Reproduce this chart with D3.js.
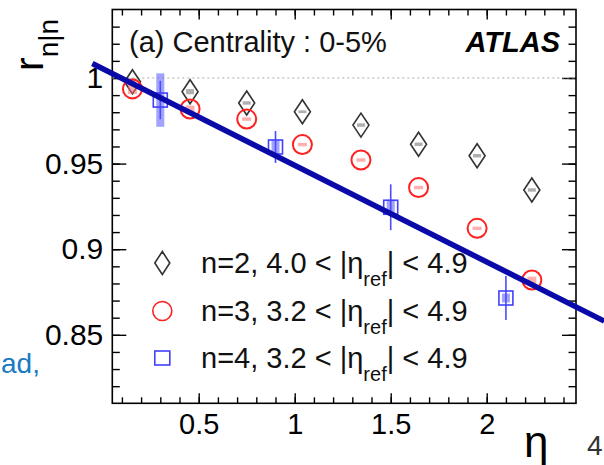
<!DOCTYPE html>
<html><head><meta charset="utf-8">
<script src="https://cdn.jsdelivr.net/npm/d3@7/dist/d3.min.js"></script>
<style>
body{margin:0;background:#fff;}
svg{display:block;font-family:"Liberation Sans",Arial,Helvetica,sans-serif;}
</style>
</head><body>
<svg id="c" width="604" height="465"></svg>
<script>
// ---- data ----
const etaN2 = [0.155, 0.455, 0.75, 1.04, 1.345, 1.645, 1.95, 2.235];
const rN2 = [0.9978, 0.9920, 0.9854, 0.9803, 0.9725, 0.9613, 0.9546, 0.9346];
const systN2 = [0.002, 0.0015, 0.001, 0.0008, 0.001, 0.001, 0.001, 0.001];

const etaN3 = [0.155, 0.455, 0.75, 1.04, 1.345, 1.645, 1.95, 2.235];
const rN3 = [0.9936, 0.9819, 0.9760, 0.9611, 0.9521, 0.9360, 0.9122, 0.8820];
const systN3 = [0.003, 0.002, 0.001, 0.001, 0.001, 0.001, 0.001, 0.002];

const etaN4 = [0.3, 0.9, 1.5, 2.1];
const rN4 = [0.9871, 0.9597, 0.9245, 0.8715];
const statN4 = [0.0112, 0.0093, 0.0134, 0.0129];
const systN4 = [0.0156, 0.0039, 0.0044, 0.0026];

const fitEta = [-0.054, 2.612];
const fitR = [1.0085, 0.8580];

const xMajor = [0.5, 1, 1.5, 2];
const xMajorLabels = ["0.5", "1", "1.5", "2"];
const yMajor = [0.85, 0.9, 0.95, 1];
const yMajorLabels = ["0.85", "0.9", "0.95", "1"];
const xMinor = d3.range(1, 25).map(i => i / 10);
const yMinor = d3.range(82, 104).map(i => i / 100);

const legendLabels = [
  ["n=2, 4.0 < |η", "ref", "| < 4.9"],
  ["n=3, 3.2 < |η", "ref", "| < 4.9"],
  ["n=4, 3.2 < |η", "ref", "| < 4.9"]
];

// ---- layout ----
const svg = d3.select("#c");
const P = {l: 112.3, r: 576, t: 9.5, b: 403.3};
const x = d3.scaleLinear().domain([0.05, 2.465]).range([P.l, P.r]);
const y = d3.scaleLinear().domain([0.81, 1.04]).range([P.b, P.t]);

const axG = svg.append("g");
function styleAxis(g){
  g.select(".domain").remove();
  g.selectAll(".tick line").attr("stroke", "#000").attr("stroke-width", 1.4);
  g.selectAll(".tick text").attr("fill", "#000");
}
// bottom
axG.append("g").attr("transform", `translate(0,${P.b})`)
  .call(d3.axisBottom(x).tickValues(xMajor).tickSizeInner(-10).tickSizeOuter(0).tickPadding(10)
    .tickFormat((d, i) => xMajorLabels[i]))
  .call(styleAxis).call(g => g.selectAll("text").attr("font-size", 29).attr("font-family", null));
axG.append("g").attr("transform", `translate(0,${P.b})`)
  .call(d3.axisBottom(x).tickValues(xMinor).tickSizeInner(-6).tickSizeOuter(0).tickFormat(""))
  .call(styleAxis);
// top
axG.append("g").attr("transform", `translate(0,${P.t})`)
  .call(d3.axisTop(x).tickValues(xMajor).tickSizeInner(-10).tickSizeOuter(0).tickFormat(""))
  .call(styleAxis);
axG.append("g").attr("transform", `translate(0,${P.t})`)
  .call(d3.axisTop(x).tickValues(xMinor).tickSizeInner(-6).tickSizeOuter(0).tickFormat(""))
  .call(styleAxis);
// left
axG.append("g").attr("transform", `translate(${P.l},0)`)
  .call(d3.axisLeft(y).tickValues(yMajor).tickSizeInner(-14).tickSizeOuter(0).tickPadding(9)
    .tickFormat((d, i) => yMajorLabels[i]))
  .call(styleAxis).call(g => g.selectAll("text").attr("font-size", 30).attr("font-family", null));
axG.append("g").attr("transform", `translate(${P.l},0)`)
  .call(d3.axisLeft(y).tickValues(yMinor).tickSizeInner(-7.5).tickSizeOuter(0).tickFormat(""))
  .call(styleAxis);
// right
axG.append("g").attr("transform", `translate(${P.r},0)`)
  .call(d3.axisRight(y).tickValues(yMajor).tickSizeInner(-14).tickSizeOuter(0).tickFormat(""))
  .call(styleAxis);
axG.append("g").attr("transform", `translate(${P.r},0)`)
  .call(d3.axisRight(y).tickValues(yMinor).tickSizeInner(-7.5).tickSizeOuter(0).tickFormat(""))
  .call(styleAxis);

// frame
svg.append("rect").attr("x", P.l).attr("y", P.t).attr("width", P.r - P.l).attr("height", P.b - P.t)
  .attr("fill", "none").attr("stroke", "#000").attr("stroke-width", 1.6);

// reference line at 1
svg.append("line").attr("x1", P.l).attr("x2", P.r).attr("y1", y(1)).attr("y2", y(1))
  .attr("stroke", "#aaa").attr("stroke-width", 1).attr("stroke-dasharray", "2,3");

// ---- data marks ----
const n2 = etaN2.map((e, i) => ({e, r: rN2[i], s: systN2[i]}));
const n3 = etaN3.map((e, i) => ({e, r: rN3[i], s: systN3[i]}));
const n4 = etaN4.map((e, i) => ({e, r: rN4[i], st: statN4[i], s: systN4[i]}));

const diamondPath = "M0,-12L8,0L0,12L-8,0Z";

// n=2 syst + markers
svg.append("g").selectAll("rect").data(n2).join("rect")
  .attr("x", d => x(d.e) - 4).attr("width", 8)
  .attr("y", d => y(d.r + d.s)).attr("height", d => Math.max(2, y(d.r - d.s) - y(d.r + d.s)))
  .attr("fill", "rgba(110,110,110,0.55)");
svg.append("g").selectAll("path").data(n2).join("path")
  .attr("d", diamondPath).attr("transform", d => `translate(${x(d.e)},${y(d.r)})`)
  .attr("fill", "none").attr("stroke", "#333").attr("stroke-width", 1.6);

// n=3
svg.append("g").selectAll("rect").data(n3).join("rect")
  .attr("x", d => x(d.e) - 4.5).attr("width", 9)
  .attr("y", d => y(d.r + d.s)).attr("height", d => Math.max(2, y(d.r - d.s) - y(d.r + d.s)))
  .attr("fill", "rgba(255,110,110,0.55)");
svg.append("g").selectAll("circle").data(n3).join("circle")
  .attr("cx", d => x(d.e)).attr("cy", d => y(d.r)).attr("r", 9.5)
  .attr("fill", "none").attr("stroke", "#ff2020").attr("stroke-width", 2);

// n=4
svg.append("g").selectAll("rect").data(n4).join("rect")
  .attr("x", d => x(d.e) - 4).attr("width", 8)
  .attr("y", d => y(d.r + d.s)).attr("height", d => y(d.r - d.s) - y(d.r + d.s))
  .attr("fill", "rgba(100,100,255,0.6)");
svg.append("g").selectAll("line").data(n4).join("line")
  .attr("x1", d => x(d.e)).attr("x2", d => x(d.e))
  .attr("y1", d => y(d.r + d.st)).attr("y2", d => y(d.r - d.st))
  .attr("stroke", "#4a4aff").attr("stroke-width", 1.6);
svg.append("g").selectAll("rect").data(n4).join("rect")
  .attr("x", d => x(d.e) - 7).attr("y", d => y(d.r) - 7).attr("width", 14).attr("height", 14)
  .attr("fill", "none").attr("stroke", "#4040ff").attr("stroke-width", 1.6);

// ---- legend ----
const legY = [263, 311, 358];
const legX = 162.3;
const lg = svg.append("g");
lg.append("path").attr("d", "M0,-11.5L7.5,0L0,11.5L-7.5,0Z")
  .attr("transform", `translate(${legX},${legY[0]})`).attr("fill", "none").attr("stroke", "#333").attr("stroke-width", 1.6);
lg.append("circle").attr("cx", legX).attr("cy", legY[1]).attr("r", 9.5)
  .attr("fill", "none").attr("stroke", "#ff2020").attr("stroke-width", 1.6);
lg.append("rect").attr("x", legX - 7.5).attr("y", legY[2] - 7).attr("width", 15).attr("height", 14)
  .attr("fill", "none").attr("stroke", "#4040ff").attr("stroke-width", 1.6);
legendLabels.forEach((L, i) => {
  const t = lg.append("text").attr("x", 201).attr("y", legY[i] + 9.5).attr("font-size", 29).attr("fill", "#111");
  t.append("tspan").text(L[0]);
  t.append("tspan").attr("font-size", 20).attr("dy", 13).text(L[1]);
  t.append("tspan").attr("dy", -13).text(L[2]);
});

// ---- titles ----
svg.append("text").attr("x", 129).attr("y", 52).attr("font-size", 29).attr("fill", "#111")
  .text("(a) Centrality : 0-5%");
svg.append("text").attr("x", 560).attr("y", 52).attr("text-anchor", "end").attr("font-size", 29)
  .attr("font-weight", "bold").attr("font-style", "italic").attr("fill", "#000").text("ATLAS");

const yt = svg.append("text").attr("transform", "translate(43,71) rotate(-90)").attr("font-size", 41).attr("fill", "#000");
yt.append("tspan").text("r");
yt.append("tspan").attr("font-size", 28).attr("dy", 15).text("n|n");

svg.append("text").attr("x", 524).attr("y", 457).attr("font-size", 44).attr("fill", "#000").text("η");

// surrounding page fragments
svg.append("text").attr("x", 1).attr("y", 373).attr("font-size", 28)
  .attr("fill", "#1a7ac4").text("ad,");
svg.append("text").attr("x", 587).attr("y", 455).attr("font-size", 28).attr("fill", "#333").text("4");

// ---- overlay fit line ----
svg.append("line")
  .attr("x1", x(fitEta[0])).attr("y1", y(fitR[0]))
  .attr("x2", x(fitEta[1])).attr("y2", y(fitR[1]))
  .attr("stroke", "#0a0aa8").attr("stroke-width", 5.5);
</script>
</body></html>
